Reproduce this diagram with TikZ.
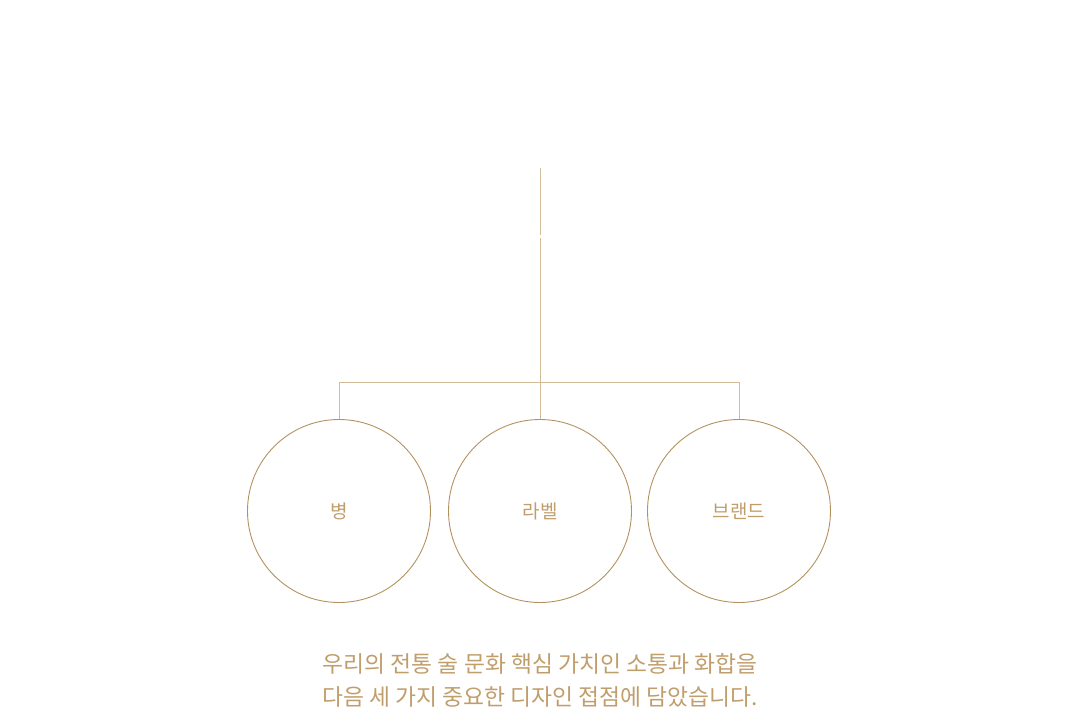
\documentclass[tikz,border=0pt]{standalone}
\usepackage{fontspec}
\usepackage{xcolor}
\newfontfamily\kofont{Noto Sans CJK KR}
\definecolor{linegold}{HTML}{D2BC98}
\definecolor{ringgold}{HTML}{B3925F}
\definecolor{textgold}{HTML}{C09E6C}

\begin{document}
\begin{tikzpicture}[x=1pt,y=-1pt]
\useasboundingbox (0,0) rectangle (1080,707);
\tikzset{ring/.style={draw=ringgold, circle, line width=0.9pt, minimum size=183pt, inner sep=0pt,
  font=\kofont\fontsize{19}{22}\selectfont, text=textgold}}
\coordinate (top) at (540,168);
\coordinate (cut1) at (540,234.5);
\coordinate (cut2) at (540,238);
\coordinate (hub) at (540,382);
\coordinate (l) at (339,382);
\coordinate (r) at (739,382);
\node[ring](bottle) at (339,511){\raisebox{-2pt}{병}};
\node[ring](label) at (540,511){\raisebox{-2pt}{라벨}};
\node[ring](brand) at (739,511){\raisebox{-2pt}{브랜드}};
\draw[linegold, line width=1pt] (top) -- (cut1);
\draw[linegold, line width=1pt] (cut2) -- (hub);
\draw[linegold, line width=1pt] (l) -- (r);
\draw[linegold, line width=1pt] (l) -- (bottle.north);
\draw[linegold, line width=1pt] (hub) -- (label.north);
\draw[linegold, line width=1pt] (r) -- (brand.north);
\node[text=textgold, align=center, font=\kofont\fontsize{22.8}{33}\selectfont](caption) at (540,680)
  {우리의 전통 술 문화 핵심 가치인 소통과 화합을\\다음 세 가지 중요한 디자인 접점에 담았습니다.};
\end{tikzpicture}
\end{document}
